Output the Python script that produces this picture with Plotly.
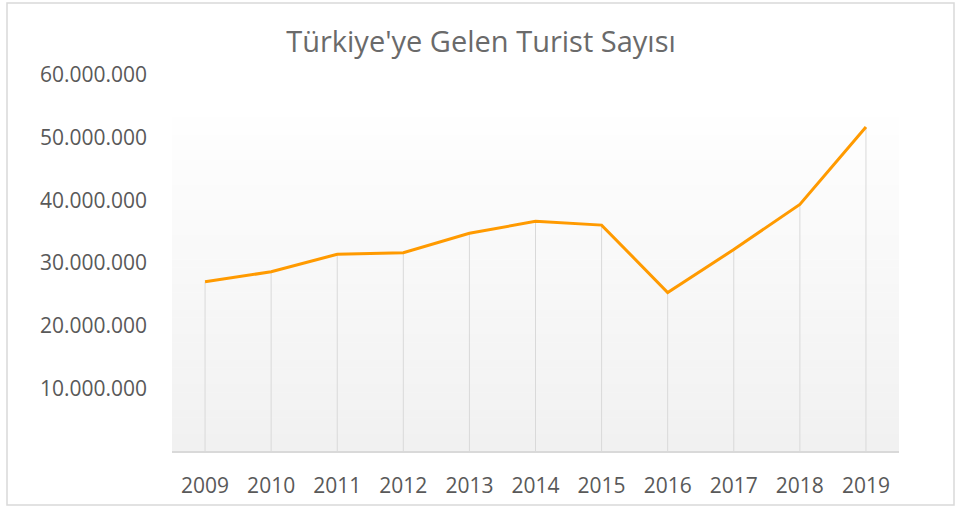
import plotly.graph_objects as go

# ---- data ----
years = ["2009", "2010", "2011", "2012", "2013", "2014", "2015", "2016", "2017", "2018", "2019"]
tourists = [27_000_000, 28_600_000, 31_400_000, 31_650_000, 34_750_000, 36_650_000,
            36_050_000, 25_300_000, 32_150_000, 39_350_000, 51_700_000]
y_ticks = [10_000_000, 20_000_000, 30_000_000, 40_000_000, 50_000_000, 60_000_000]
y_ticktext = [f"{v:,}".replace(",", ".") for v in y_ticks]
title_text = "Türkiye'ye Gelen Turist Sayısı"

W, H = 964, 508
L, R, T, B = 172, 65, 75, 57
plot_h = H - T - B

fig = go.Figure()

# drop lines from each point down to the axis
dx, dy = [], []
for yr, v in zip(years, tourists):
    dx += [yr, yr, None]
    dy += [0, v, None]
fig.add_trace(go.Scatter(x=dx, y=dy, mode="lines",
                         line=dict(color="#d9d9d9", width=1),
                         hoverinfo="skip", showlegend=False))

# main line
fig.add_trace(go.Scatter(x=years, y=tourists, mode="lines",
                         line=dict(color="#FF9A00", width=3),
                         showlegend=False))

shapes = []
# gradient plot-area background (white at top -> light gray at bottom)
top_frac = (451 - 118) / plot_h
n = 40
for i in range(n):
    f0 = top_frac * i / n
    f1 = top_frac * (i + 1) / n
    t = (i + 0.5) / n  # 0 bottom, 1 top
    c = round(241 + (254 - 241) * t)
    shapes.append(dict(type="rect", xref="paper", yref="paper",
                       x0=0, x1=1, y0=f0, y1=f1 + 0.001,
                       fillcolor=f"rgb({c},{c},{c})", line=dict(width=0),
                       layer="below"))
# outer chart border
shapes.append(dict(type="rect", xref="paper", yref="paper",
                   x0=(7 - L) / (W - L - R), x1=(954 - L) / (W - L - R),
                   y0=(H - B - 505) / plot_h, y1=(H - B - 3) / plot_h,
                   line=dict(color="#d9d9d9", width=1.5),
                   fillcolor="rgba(0,0,0,0)", layer="above"))

fig.update_layout(
    width=W, height=H,
    margin=dict(l=L, r=R, t=T, b=B, pad=0, autoexpand=False),
    paper_bgcolor="white", plot_bgcolor="rgba(0,0,0,0)",
    font=dict(family="Open Sans", color="#595959"),
    title=dict(text=title_text, xref="container", yref="container",
               x=481 / W, y=1 - 42 / H, xanchor="center", yanchor="middle",
               font=dict(family="Open Sans", size=29, color="#6a6a6a")),
    shapes=shapes,
    showlegend=False,
)
fig.update_xaxes(type="category", range=[-0.5, 10.5], showgrid=False,
                 showline=True, linecolor="#d9d9d9", linewidth=1.5,
                 ticks="", tickfont=dict(size=21, color="#595959"),
                 ticklabelstandoff=15, zeroline=False, fixedrange=True,
                 automargin=False)
fig.update_yaxes(range=[0, 60_000_000], tickvals=y_ticks, ticktext=y_ticktext,
                 showgrid=False, zeroline=False, showline=False, ticks="",
                 tickfont=dict(size=21, color="#595959"),
                 ticklabelstandoff=24, fixedrange=True, automargin=False)

fig.write_html("out.html", config={"displayModeBar": False},
               post_script="document.body.style.margin='0';document.body.style.overflow='hidden';")
